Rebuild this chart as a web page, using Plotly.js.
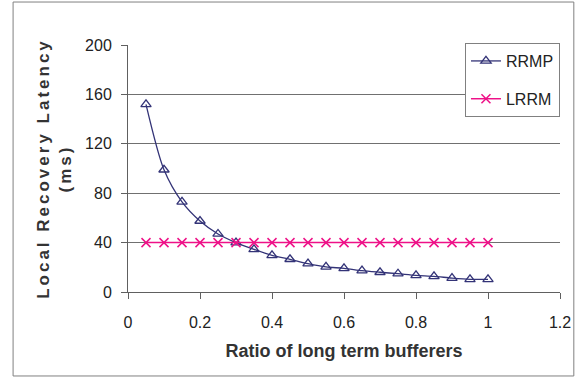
<!DOCTYPE html>
<html>
<head>
<meta charset="utf-8">
<script src="https://cdn.plot.ly/plotly-3.0.1.min.js"></script>
<style>
html,body{margin:0;padding:0;background:#fff;}
#chart{width:587px;height:378px;}
</style>
</head>
<body>
<div id="chart"></div>
<script>
const ratio = [0.05,0.1,0.15,0.2,0.25,0.3,0.35,0.4,0.45,0.5,0.55,0.6,0.65,0.7,0.75,0.8,0.85,0.9,0.95,1.0];
const rrmp = [152,99,73,57.5,47,40,34.5,29.7,26.5,23,20.3,19.2,17.3,16,14.8,13.5,12.7,11.3,10.3,10.3];
const lrrm = [40,40,40,40,40,40,40,40,40,40,40,40,40,40,40,40,40,40,40,40];
const xTicks = [0,0.2,0.4,0.6,0.8,1,1.2];
const yTicks = [0,40,80,120,160,200];

const font = 'Liberation Sans, Arial, sans-serif';
const navy = '#333377';
const magenta = '#EE1188';

const traces = [
  {x: ratio, y: rrmp, name: 'RRMP', type: 'scatter', mode: 'lines+markers', legendgroup: 'a',
   line: {color: navy, width: 1.3, shape: 'spline', smoothing: 0.8},
   marker: {symbol: 'triangle-up-open', size: 9, color: navy, line: {width: 1.3, color: navy}}},
  {x: ratio, y: lrrm, name: 'LRRM', type: 'scatter', mode: 'lines+markers', legendgroup: 'b',
   line: {color: magenta, width: 1.5},
   marker: {symbol: 'x-thin-open', size: 9, color: magenta, line: {width: 1.5, color: magenta}}}
];

const layout = {
  width: 587, height: 378,
  margin: {l: 128, r: 27, t: 45, b: 86},
  paper_bgcolor: '#fff', plot_bgcolor: '#fff',
  font: {family: font, size: 16, color: '#222'},
  showlegend: true,
  legend: {x: 0.78, y: 1.008, xanchor: 'left', yanchor: 'top',
    bgcolor: '#fff', bordercolor: '#808080', borderwidth: 1,
    font: {family: font, size: 16, color: '#222'}, tracegroupgap: 14},
  xaxis: {range: [0, 1.2], tickvals: xTicks, ticktext: xTicks.map(String),
    showgrid: false, zeroline: false, showline: true, linecolor: '#606060', linewidth: 1,
    ticks: 'outside', ticklen: 6, tickcolor: '#606060', ticklabelstandoff: 10,
    tickfont: {family: font, size: 16, color: '#222'},
    title: {text: '<b>Ratio of long term bufferers</b>', font: {family: font, size: 18, color: '#333'}, standoff: 14},
    automargin: false},
  yaxis: {range: [0, 200], tickvals: yTicks, ticktext: yTicks.map(String),
    showgrid: true, gridcolor: '#707070', gridwidth: 1, zeroline: false,
    showline: true, linecolor: '#606060', linewidth: 1,
    ticks: 'outside', ticklen: 6, tickcolor: '#606060', ticklabelstandoff: 6,
    tickfont: {family: font, size: 16, color: '#222'},
    title: {text: '<b>Local Recovery Latency<br>(ms)</b>', font: {family: font, size: 17, color: '#333'}, standoff: 9},
    automargin: false},
  shapes: [{type: 'rect', xref: 'paper', yref: 'paper', x0: -0.266, x1: 1.032, y0: -0.34, y1: 1.174,
    line: {color: '#808080', width: 1}, layer: 'below'}]
};

Plotly.newPlot('chart', traces, layout, {displayModeBar: false, staticPlot: true}).then(function(){
  const t = document.querySelector('.ytitle');
  if (t) t.style.letterSpacing = '3px';
});
</script>
</body>
</html>
